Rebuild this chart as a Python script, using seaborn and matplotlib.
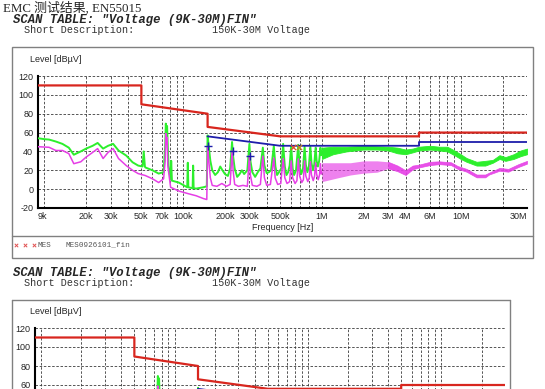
import numpy as np
import pandas as pd
import matplotlib
matplotlib.use("Agg")
import matplotlib.pyplot as plt
import seaborn as sns
from matplotlib.ticker import LogLocator, NullFormatter, FixedLocator, FixedFormatter
from matplotlib.patches import Rectangle

sns.set_style("white")
plt.rcParams["font.family"] = ["Liberation Sans", "DejaVu Sans"]

# ---------------- data (frequency in kHz, level in dBuV) ----------------
# limit lines (EN55015)
red_khz = [9, 50, 50, 150, 150, 500, 5000, 5000, 30000]
red_db = [110, 110, 90, 80, 66, 56, 56, 60, 60]
blue_khz = [150, 500, 5000, 5000, 30000]
blue_db = [56, 46, 46, 50, 50]

# peak trace (green), 9k - 150k
green_a_khz = [9, 10, 10.8, 12.1, 13.5, 15, 16.3, 18.3, 20, 22.3, 24.2, 26.5, 28.8, 31.3,
               34.2, 38.9, 43.2, 47.4, 51, 52, 53, 53.4, 60.1, 66.6, 72.3, 74.2, 75, 75.8,
               76.6, 77.5, 78.5, 81.2, 82, 83, 93, 107, 108, 109, 117, 118, 119, 124, 140, 148]
green_a_db = [54, 53, 52.6, 50.5, 48, 44, 36.5, 40, 43, 46, 49, 43, 46, 48,
              41, 35.6, 28.5, 25, 24, 40, 24, 23, 20, 16.5, 18, 45, 69.5, 58,
              67, 45, 25, 10, 30, 9, 7, 2, 28, 2, 1, 25, 1, 0.6, 2, 3]
# peak trace, 150k - 1M (harmonic comb)
green_b_khz = [150, 153, 157, 162, 170, 178, 185, 192, 200, 210, 218, 225, 229, 235, 245,
               255, 265, 275, 290, 300, 305, 315, 330, 345, 360, 375, 385, 400, 415, 430,
               450, 462, 475, 490, 510, 525, 540, 555, 570, 585, 600, 615, 630, 650, 675,
               690, 710, 730, 750, 765, 785, 805, 825, 840, 860, 880, 900, 915, 935, 955,
               975, 990, 1000]
green_b_db = [57, 45, 30, 20, 15, 18, 24, 20, 16, 14, 22, 50, 35, 22, 13,
              16, 20, 16, 20, 48, 30, 18, 13, 18, 22, 44, 25, 17, 18, 20,
              46, 24, 15, 18, 22, 48, 24, 15, 18, 25, 46, 22, 15, 20, 47,
              24, 16, 22, 45, 26, 18, 24, 45, 28, 20, 26, 44, 30, 24, 30,
              44, 36, 40]
# peak trace, 1M - 30M (dense band: lower / upper envelope)
green_c_khz = [1000, 1200, 1500, 2000, 2500, 3000, 3500, 4000, 4500, 5000, 6000, 7000,
               8000, 9000, 10000, 11000, 13000, 15000, 17000, 19000, 21000, 24000, 27000, 30000]
green_c_lo = [32, 37, 40, 42, 42, 41, 38, 37, 39, 41, 42, 41, 40, 36, 32, 29, 25, 25, 28, 32, 30, 32, 35, 37]
green_c_hi = [44, 45, 45, 46, 45.5, 45, 44, 42, 43, 45, 46, 45, 45, 41, 37, 33, 29, 30, 31, 36, 34, 37, 41, 43]

# average trace (magenta), 9k - 150k
mag_a_khz = [9, 10.8, 12.1, 13.5, 15, 16.3, 18.3, 20, 22.3, 24.2, 26.5, 28.8, 31.3, 34.2,
             38.9, 43.2, 47.4, 53.4, 60.1, 66.6, 72.3, 74.2, 75, 75.8, 76.6, 77.5, 81.2,
             93, 110, 124, 140, 148]
mag_a_db = [45, 44.4, 41, 41, 37.7, 27, 29, 34, 39, 43, 32.5, 39, 43, 32.5,
            25, 20, 16.5, 14.4, 11, 7, 11, 30, 59, 48, 55, 25, 2,
            -2, -5, -7, -10, -11]
# average trace, 150k - 1M
mag_b_khz = [150, 153, 157, 162, 175, 190, 205, 218, 225, 229, 235, 250, 270, 290, 300,
             305, 315, 340, 360, 375, 385, 400, 425, 450, 460, 480, 505, 525, 540, 560,
             585, 600, 615, 640, 660, 675, 690, 715, 735, 750, 765, 790, 810, 825, 840,
             865, 885, 900, 915, 940, 960, 975, 990, 1000]
mag_b_db = [45, 30, 12, 4, 3, 6, 3, 5, 40.5, 20, 5, 3, 4, 3, 35.6,
            15, 4, 3, 5, 35, 12, 4, 5, 33, 12, 5, 6, 32.5, 12, 6,
            8, 30, 12, 6, 9, 32, 14, 7, 10, 30, 14, 8, 12, 29, 15,
            9, 14, 28, 16, 10, 15, 27, 16, 18]
# average trace, 1M - 30M band
mag_c_khz = [1000, 1300, 1600, 2000, 2500, 3000, 3500, 4000, 4500, 5000, 6000, 7000,
             8500, 9500, 11000, 13000, 15000, 16000, 19000, 22000, 26000, 30000]
mag_c_lo = [8, 12, 15, 17, 18, 22, 19, 15, 21, 23, 25.5, 26.5, 25.5, 21.5, 18.5, 12.5, 12.5, 15.5, 19.5, 18.5, 23.5, 27]
mag_c_hi = [28, 28, 28, 30, 30, 29, 25, 20, 25, 26, 29, 29.5, 28.5, 24.5, 21.5, 15.5, 15.5, 17.5, 22.5, 21.5, 26.5, 30]

# final measurement markers
avg_mark_khz = [152, 228, 305]
avg_mark_db = [46, 40.5, 35.6]
qp_mark_khz = [617, 683]
qp_mark_db = [45, 45]

tick_khz = [9, 20, 30, 50, 70, 100, 200, 300, 500, 1000, 2000, 3000, 4000, 6000, 10000, 30000]
tick_labels = ["9k", "20k", "30k", "50k", "70k", "100k", "200k", "300k", "500k",
               "1M", "2M", "3M", "4M", "6M", "10M", "30M"]
y_ticks = [-20, 0, 20, 40, 60, 80, 100, 120]

GREEN = "#2cef2c"
MAGENTA = "#e63ee6"
RED = "#d8261e"
BLUE = "#1e1eaa"


def hz(lst):
    return np.asarray(lst, dtype=float) * 1e3


def draw_chart(ax, show_xlabels=True, min_ylabel=-20):
    ax.set_xscale("log")
    # green
    ga = pd.DataFrame({"f": np.concatenate([hz(green_a_khz), hz(green_b_khz)]),
                       "db": green_a_db + green_b_db})
    sns.lineplot(data=ga, x="f", y="db", estimator=None, sort=False, ax=ax,
                 color=GREEN, lw=1.4, zorder=3)
    ax.fill_between(hz(green_c_khz), green_c_lo, green_c_hi, color=GREEN, lw=0.6,
                    edgecolor=GREEN, zorder=3)
    # magenta
    ma = pd.DataFrame({"f": np.concatenate([hz(mag_a_khz), hz(mag_b_khz)]),
                       "db": mag_a_db + mag_b_db})
    sns.lineplot(data=ma, x="f", y="db", estimator=None, sort=False, ax=ax,
                 color=MAGENTA, lw=1.1, zorder=4)
    fc = hz(mag_c_khz)
    lo = np.asarray(mag_c_lo, float)
    hi = np.asarray(mag_c_hi, float)
    comb = fc <= 3e6
    ax.fill_between(fc[comb], lo[comb], hi[comb], color=MAGENTA, lw=0,
                    alpha=0.65, zorder=4)
    ax.fill_between(fc[fc >= 3e6], lo[fc >= 3e6], hi[fc >= 3e6], color=MAGENTA,
                    lw=0.5, edgecolor=MAGENTA, alpha=0.9, zorder=4)
    # limits
    sns.lineplot(x=hz(red_khz), y=red_db, estimator=None, sort=False, ax=ax,
                 color=RED, lw=1.6, zorder=5)
    sns.lineplot(x=hz(blue_khz), y=blue_db, estimator=None, sort=False, ax=ax,
                 color=BLUE, lw=1.3, zorder=5)
    # markers
    ax.scatter(hz(avg_mark_khz), avg_mark_db, marker="+", s=28, color=BLUE, lw=1.0, zorder=6)
    ax.scatter(hz(qp_mark_khz[:1]), qp_mark_db[:1], marker="x", s=14, color="#e0502a", lw=0.9, zorder=6)
    ax.scatter(hz(qp_mark_khz[1:]), qp_mark_db[1:], marker="x", s=14, color="#c8861e", lw=0.9, zorder=6)

    ax.set_xlim(9e3, 3e7)
    ax.set_ylim(-20, 120)
    ax.set_xlabel("")
    ax.set_ylabel("")
    ax.xaxis.set_major_locator(FixedLocator(hz(tick_khz)))
    ax.xaxis.set_major_formatter(FixedFormatter(tick_labels if show_xlabels else [""] * len(tick_labels)))
    ax.xaxis.set_minor_locator(LogLocator(base=10, subs=np.arange(1, 10), numticks=60))
    ax.xaxis.set_minor_formatter(NullFormatter())
    ax.set_yticks(y_ticks)
    ax.set_yticklabels([str(v) if v >= min_ylabel else "" for v in y_ticks])
    ax.grid(True, which="both", axis="x", ls=(0, (3, 2)), color="#3a3a3a", lw=0.6)
    ax.grid(True, which="major", axis="y", ls=(0, (3, 2)), color="#3a3a3a", lw=0.6)
    ax.tick_params(axis="x", which="both", length=0, pad=3, labelsize=6.5)
    ax.tick_params(axis="y", length=3, direction="inout", width=0.8, pad=2, labelsize=6.5)
    for s in ["top", "right"]:
        ax.spines[s].set_visible(False)
    for s in ["left", "bottom"]:
        ax.spines[s].set_color("black")
        ax.spines[s].set_linewidth(1.5)
    if show_xlabels:
        labs = ax.get_xticklabels()
        labs[0].set_horizontalalignment("left")
        labs[-1].set_horizontalalignment("right")


W, H = 545, 389
fig = plt.figure(figsize=(W / 100, H / 100), dpi=100)

bg = fig.add_axes([0, 0, 1, 1], zorder=0)
bg.set_xlim(0, W)
bg.set_ylim(H, 0)
bg.axis("off")

# header texts
bg.text(3, 8, "EMC 测试结果, EN55015", fontsize=9.3, va="center", ha="left",
        family=["Liberation Serif", "Noto Sans CJK SC"])
for y0 in (20, 273):
    bg.text(13, y0, 'SCAN TABLE: "Voltage (9K-30M)FIN"', fontsize=8.8, va="center",
            ha="left", family="Liberation Mono", weight="bold", style="italic")
    bg.text(24, y0 + 10, "Short Description:", fontsize=7.3, va="center", ha="left",
            family="Liberation Mono", color="#333333")
    bg.text(212, y0 + 10, "150K-30M Voltage", fontsize=7.3, va="center", ha="left",
            family="Liberation Mono", color="#333333")

# boxes
bg.add_patch(Rectangle((12, 47), 521, 211, fill=False, ec="#808080", lw=1.0))
bg.plot([12, 533], [236, 236], color="#808080", lw=1.0)
bg.plot([12, 510], [300, 300], color="#808080", lw=1.0)
bg.plot([12, 12], [300, 389], color="#808080", lw=1.0)
bg.plot([510, 510], [300, 389], color="#808080", lw=1.0)

# legend row
bg.scatter([16, 25, 34], [245, 245, 245], marker="x", s=6, color="#e05050", lw=0.7)
bg.text(37, 245, "MES", fontsize=5.5, va="center", ha="left", family="Liberation Mono", color="#555555")
bg.text(66, 245, "MES0926101_fin", fontsize=5.5, va="center", ha="left", family="Liberation Mono", color="#555555")

# axis titles
bg.text(30, 59, "Level [dBµV]", fontsize=6.5, va="center", ha="left")
bg.text(30, 312, "Level [dBµV]", fontsize=6.5, va="center", ha="left")
bg.text(283, 227, "Frequency [Hz]", fontsize=6.5, va="center", ha="center")

# charts
ax1 = fig.add_axes([38 / W, 1 - 208 / H, (527 - 38) / W, (208 - 76) / H], zorder=2)
draw_chart(ax1)
ax2 = fig.add_axes([35 / W, 1 - 461 / H, (505 - 35) / W, (461 - 328) / H], zorder=2)
draw_chart(ax2, show_xlabels=False, min_ylabel=60)

fig.savefig("out.png", dpi=100)
